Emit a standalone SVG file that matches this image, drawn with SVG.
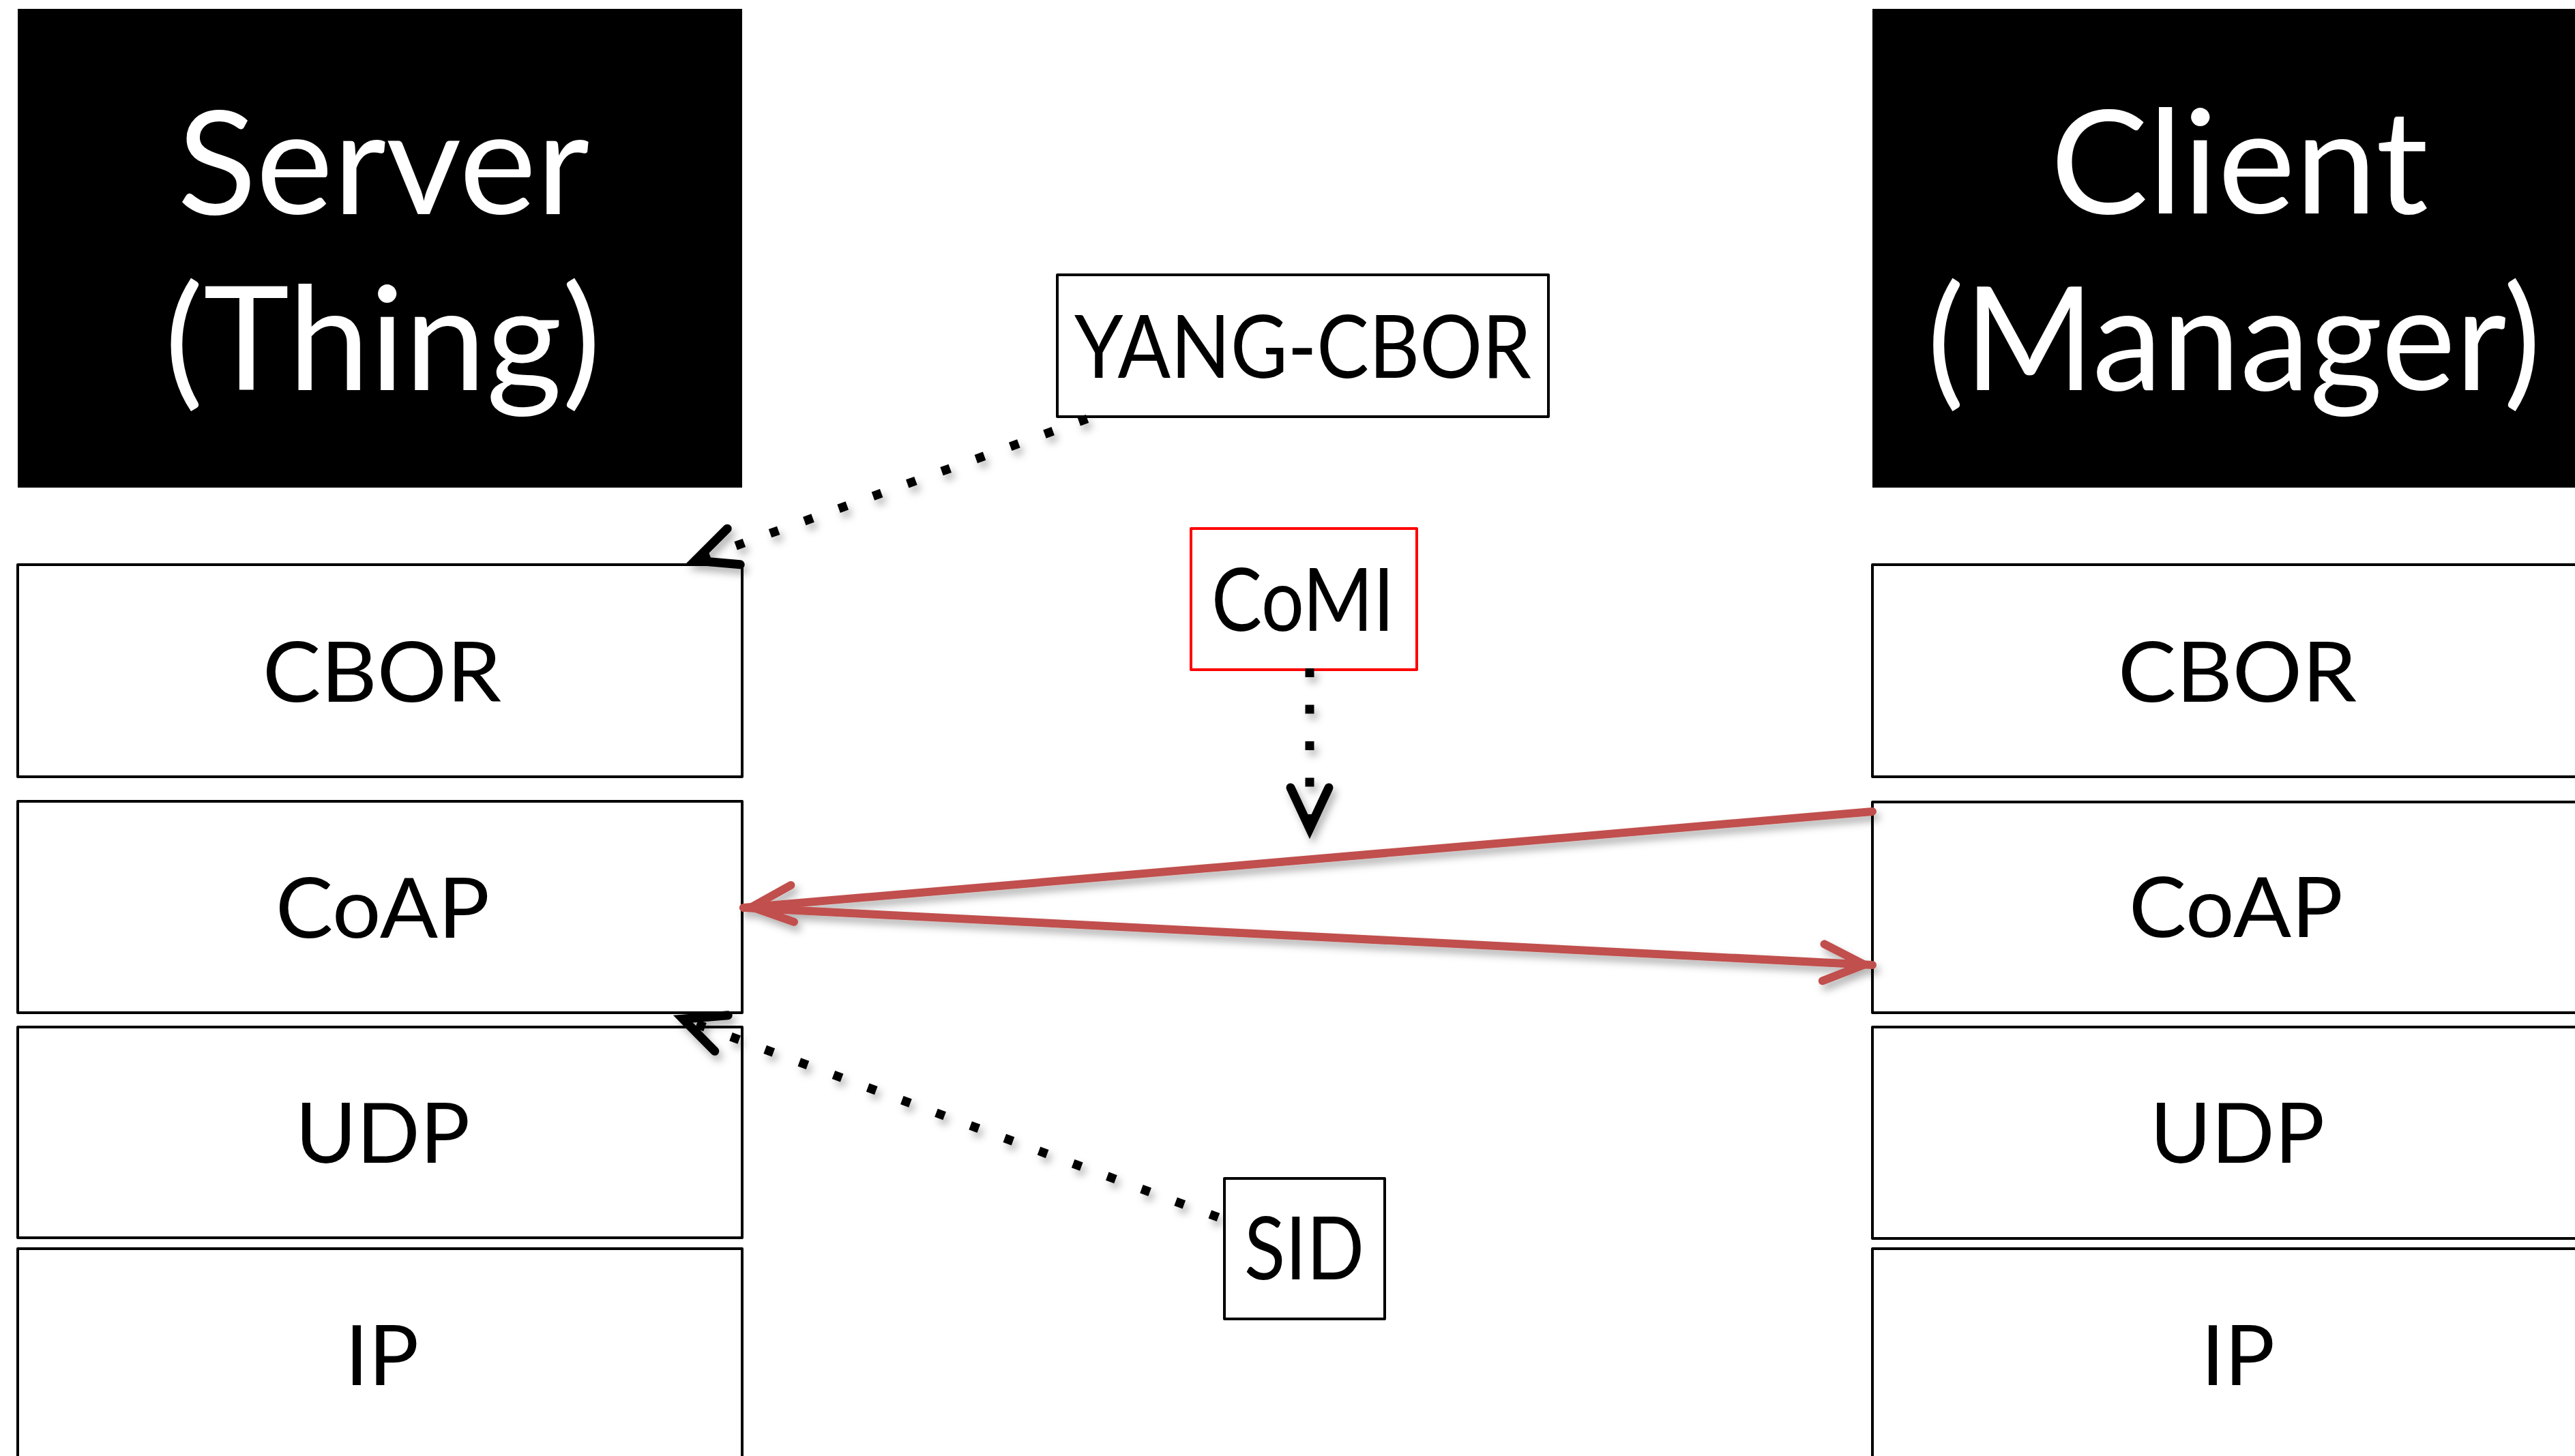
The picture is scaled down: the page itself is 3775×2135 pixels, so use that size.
<svg xmlns="http://www.w3.org/2000/svg" width="3775" height="2135" viewBox="0 0 3775 2135">
<style>
.title{fill:#000}
.ttext{font-family:Lato,"Open Sans","Liberation Sans",sans-serif;font-size:212px;fill:#fff;text-anchor:middle}
.layer{fill:#fff;stroke:#000;stroke-width:4;stroke-linejoin:round}
.ltext{font-family:Lato,"Open Sans","Liberation Sans",sans-serif;font-size:123px;fill:#000;text-anchor:middle}
.mbox{fill:#fff;stroke:#000;stroke-width:4;stroke-linejoin:round}
.mred{fill:#fff;stroke:#ff0000;stroke-width:4;stroke-linejoin:round}
.mtext{font-family:Lato,"Open Sans","Liberation Sans",sans-serif;font-size:128px;fill:#000;text-anchor:middle}
.dot{fill:none;stroke:#000;stroke-width:13;stroke-dasharray:13 40.5;stroke-linecap:butt}
.red{fill:none;stroke:#c0504d;stroke-width:12;stroke-linecap:round}
</style>
<defs>
<filter id="shadow" x="-10%" y="-10%" width="130%" height="140%">
<feDropShadow dx="5" dy="8" stdDeviation="6" flood-color="#000" flood-opacity="0.3"/>
</filter>
<marker id="vBlack" markerUnits="userSpaceOnUse" viewBox="-90 -40 110 80" markerWidth="110" markerHeight="80" refX="0" refY="0" orient="auto" overflow="visible">
<path d="M-72,-28 L-12,0 L-72,28" fill="none" stroke="#000" stroke-width="13" stroke-linecap="round" stroke-linejoin="miter"/>
</marker>
<marker id="vRed" markerUnits="userSpaceOnUse" viewBox="-90 -40 110 80" markerWidth="110" markerHeight="80" refX="0" refY="0" orient="auto" overflow="visible">
<path d="M-72,-27 L-12,0 L-72,27" fill="none" stroke="#c0504d" stroke-width="12" stroke-linecap="round" stroke-linejoin="miter"/>
</marker>
</defs>
<rect width="3775" height="2135" fill="#fff"/>

<g id="server">
<rect class="title" x="26" y="13" width="1062" height="702"/>
<text class="ttext" x="562" y="314" textLength="604" lengthAdjust="spacingAndGlyphs">Server</text>
<text class="ttext" x="561" y="572" textLength="640" lengthAdjust="spacingAndGlyphs">(Thing)</text>
</g>
<g id="client">
<rect class="title" x="2745" y="13" width="1070" height="702"/>
<text class="ttext" x="3283" y="313" textLength="554" lengthAdjust="spacingAndGlyphs">Client</text>
<text class="ttext" x="3275" y="572" textLength="900" lengthAdjust="spacingAndGlyphs">(Manager)</text>
</g>

<g id="server-cbor">
<rect class="layer" x="26" y="828" width="1062" height="311"/>
<text class="ltext" x="560" y="1029" textLength="350" lengthAdjust="spacingAndGlyphs">CBOR</text>
</g>
<g id="server-coap">
<rect class="layer" x="26" y="1175" width="1062" height="310"/>
<text class="ltext" x="561" y="1375" textLength="314" lengthAdjust="spacingAndGlyphs">CoAP</text>
</g>
<g id="server-udp">
<rect class="layer" x="26" y="1506" width="1062" height="309"/>
<text class="ltext" x="561" y="1705" textLength="256" lengthAdjust="spacingAndGlyphs">UDP</text>
</g>
<g id="server-ip">
<rect class="layer" x="26" y="1831" width="1062" height="320"/>
<text class="ltext" x="560" y="2031">IP</text>
</g>

<g id="client-cbor">
<rect class="layer" x="2745" y="828" width="1070" height="311"/>
<text class="ltext" x="3280" y="1029" textLength="350" lengthAdjust="spacingAndGlyphs">CBOR</text>
</g>
<g id="client-coap">
<rect class="layer" x="2745" y="1176" width="1070" height="309"/>
<text class="ltext" x="3278" y="1374" textLength="314" lengthAdjust="spacingAndGlyphs">CoAP</text>
</g>
<g id="client-udp">
<rect class="layer" x="2745" y="1506" width="1070" height="310"/>
<text class="ltext" x="3280" y="1705" textLength="256" lengthAdjust="spacingAndGlyphs">UDP</text>
</g>
<g id="client-ip">
<rect class="layer" x="2745" y="1831" width="1070" height="320"/>
<text class="ltext" x="3281" y="2031">IP</text>
</g>

<g id="yang-cbor">
<rect class="mbox" x="1550" y="403" width="720" height="208"/>
<text class="mtext" x="1910" y="554" textLength="670" lengthAdjust="spacingAndGlyphs">YANG-CBOR</text>
</g>
<g id="comi">
<rect class="mred" x="1746" y="775" width="331" height="207"/>
<text class="mtext" x="1910" y="925" textLength="268" lengthAdjust="spacingAndGlyphs">CoMI</text>
</g>
<g id="sid">
<rect class="mbox" x="1795" y="1728" width="235" height="206"/>
<text class="mtext" x="1912" y="1876" textLength="176" lengthAdjust="spacingAndGlyphs">SID</text>
</g>

<g id="connectors" filter="url(#shadow)">
<path class="dot" d="M1594,614 L1008,826" marker-end="url(#vBlack)"/>
<path class="dot" d="M1920,980 L1920,1227" marker-end="url(#vBlack)"/>
<path class="dot" d="M1786,1785 L990,1490" marker-end="url(#vBlack)"/>
<path class="red" d="M2745,1190 L1090,1331" marker-end="url(#vRed)"/>
<path class="red" d="M1090,1331 L2745,1415" marker-end="url(#vRed)"/>
</g>
</svg>
